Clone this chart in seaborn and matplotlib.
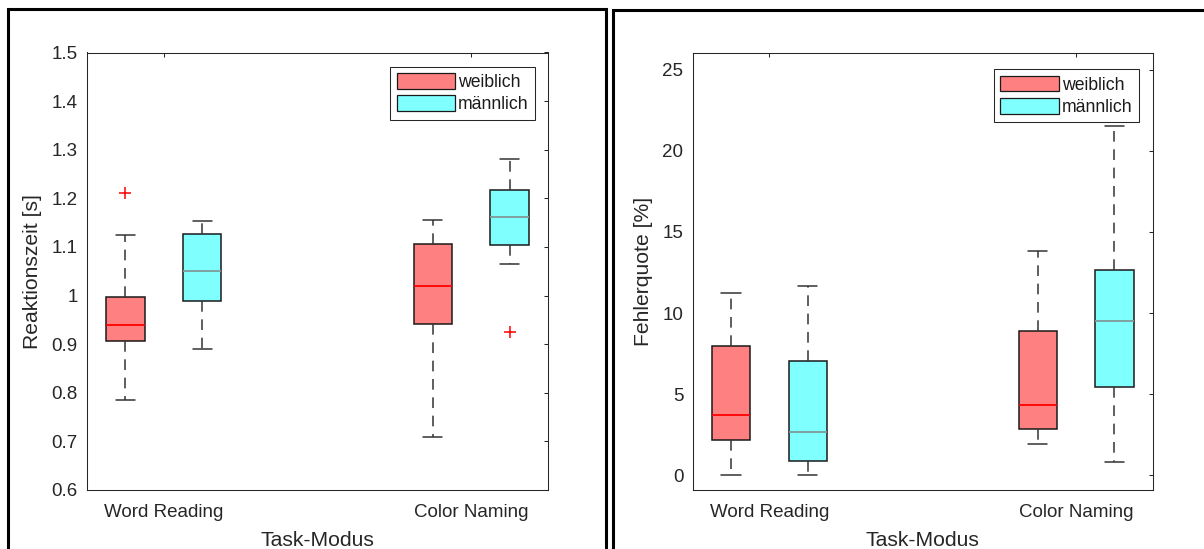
import numpy as np
import pandas as pd
import matplotlib
matplotlib.use("Agg")
import matplotlib.pyplot as plt
from matplotlib.patches import Patch, Rectangle
import seaborn as sns

# ---- data -------------------------------------------------------------
groups = ["weiblich", "männlich"]
tasks = ["Word Reading", "Color Naming"]
task_ticks = [1.5, 5.5]
box_pos = [1, 2, 5, 6]                      # WR-w, WR-m, CN-w, CN-m
box_group = ["weiblich", "männlich", "weiblich", "männlich"]

# reaction time [s]: lower whisker, Q1, median, Q3, upper whisker
rt_low = [0.786, 0.891, 0.709, 1.064]
rt_q1 = [0.907, 0.989, 0.942, 1.103]
rt_med = [0.940, 1.051, 1.019, 1.161]
rt_q3 = [0.998, 1.127, 1.106, 1.217]
rt_high = [1.124, 1.153, 1.156, 1.281]
rt_out_pos = [1, 6]
rt_out_val = [1.211, 0.925]
rt_ticks = [0.6, 0.7, 0.8, 0.9, 1.0, 1.1, 1.2, 1.3, 1.4, 1.5]
rt_ticklabels = ["0.6", "0.7", "0.8", "0.9", "1", "1.1", "1.2", "1.3", "1.4", "1.5"]

# error rate [%]
er_low = [0.0, 0.0, 1.92, 0.85]
er_q1 = [2.18, 0.88, 2.84, 5.45]
er_med = [3.74, 2.65, 4.36, 9.51]
er_q3 = [7.98, 7.05, 8.87, 12.66]
er_high = [11.23, 11.69, 13.80, 21.53]
er_ticks = [0, 5, 10, 15, 20, 25]
er_ticklabels = ["0", "5", "10", "15", "20", "25"]

palette = {"weiblich": "#ff8080", "männlich": "#80ffff"}
median_colors = {"weiblich": "#ff0000", "männlich": "#7f9898"}
ink = "#262626"


def five_number_frame(low, q1, med, q3, high):
    rows = []
    for i, pos in enumerate(box_pos):
        for v in (low[i], q1[i], med[i], q3[i], high[i]):
            rows.append({"pos": pos, "val": v, "group": box_group[i]})
    return pd.DataFrame(rows)


sns.set_style("white")
plt.rcParams["font.family"] = ["Liberation Sans", "DejaVu Sans"]

fig = plt.figure(figsize=(12.04, 5.49), dpi=100)


def draw_panel(rect, df, ylim, yticks, yticklabels, ylabel, ylabel_x,
               legend_anchor, out_pos=None, out_val=None):
    ax = fig.add_axes(rect)
    sns.boxplot(
        data=df, x="pos", y="val", hue="group", hue_order=groups,
        palette=palette, native_scale=True, width=0.5, saturation=1,
        linecolor="#1a1a1a", linewidth=1.1, showfliers=False, legend=False,
        whiskerprops=dict(linestyle=(0, (7, 5)), color="#333333"),
        capprops=dict(color="#333333"),
        medianprops=dict(color="red", linewidth=1.3, gid="median"),
        ax=ax,
    )
    # median colour per group
    m_pos = [p for p, g in zip(box_pos, box_group) if g == "männlich"]
    for line in ax.lines:
        if line.get_gid() == "median":
            xc = float(np.mean(line.get_xdata()))
            if any(abs(xc - p) < 0.3 for p in m_pos):
                line.set_color(median_colors["männlich"])
            else:
                line.set_color(median_colors["weiblich"])
    if out_pos:
        sns.scatterplot(x=out_pos, y=out_val, marker="+", color="red",
                        s=85, linewidth=1.1, legend=False, ax=ax, zorder=5)

    ax.set_xlim(0.5, 6.5)
    ax.set_ylim(*ylim)
    ax.set_xticks(task_ticks)
    ax.set_xticklabels(tasks)
    ax.set_yticks(yticks)
    ax.set_yticklabels(yticklabels)
    ax.tick_params(direction="in", length=2.9, width=0.75, top=True, right=True,
                   color=ink, labelcolor=ink, labelsize=13.5)
    ax.tick_params(axis="x", pad=10.3)
    ax.tick_params(axis="y", pad=6.8)
    for s in ax.spines.values():
        s.set_visible(True)
        s.set_color(ink)
        s.set_linewidth(0.75)

    ax.set_xlabel("Task-Modus", fontsize=15.2, color=ink)
    ax.xaxis.set_label_coords(0.5, -0.094)
    ax.set_ylabel(ylabel, fontsize=15.2, color=ink, va="center")
    ax.yaxis.set_label_coords(ylabel_x, 0.5)

    handles = [Patch(facecolor=palette[g], edgecolor="#1a1a1a", linewidth=0.9,
                     label=g) for g in groups]
    leg = ax.legend(handles=handles, loc="upper right", bbox_to_anchor=legend_anchor,
                    borderaxespad=0, fontsize=12.7, handlelength=3.3,
                    handleheight=1.0, handletextpad=0.2, borderpad=0.35,
                    labelspacing=0.25, frameon=True, fancybox=False,
                    edgecolor=ink, framealpha=1)
    leg.get_frame().set_linewidth(0.75)
    for t in leg.get_texts():
        t.set_color("#1a1a1a")
    return ax


W, H = 1204.0, 549.0
draw_panel([87 / W, 1 - 490 / H, 461 / W, 437.5 / H],
           five_number_frame(rt_low, rt_q1, rt_med, rt_q3, rt_high),
           (0.6, 1.5), rt_ticks, rt_ticklabels, "Reaktionszeit [s]",
           (33 - 87) / 461, (0.972, 0.967), rt_out_pos, rt_out_val)
draw_panel([692.7 / W, 1 - 490 / H, 460 / W, 436.7 / H],
           five_number_frame(er_low, er_q1, er_med, er_q3, er_high),
           (-0.9, 26.0), er_ticks, er_ticklabels, "Fehlerquote [%]",
           (643.7 - 692.7) / 460, (0.970, 0.963))

# panel frames
fig.patches.append(Rectangle((7.5 / W, -0.05), (605.5 - 7.5) / W, 1.05 - 8.5 / H,
                             transform=fig.transFigure, fill=False,
                             edgecolor="black", linewidth=2.2, clip_on=False))
fig.patches.append(Rectangle((613 / W, -0.05), 0.5, 1.05 - 10 / H,
                             transform=fig.transFigure, fill=False,
                             edgecolor="black", linewidth=2.2, clip_on=False))

fig.savefig("out.png", dpi=100)
